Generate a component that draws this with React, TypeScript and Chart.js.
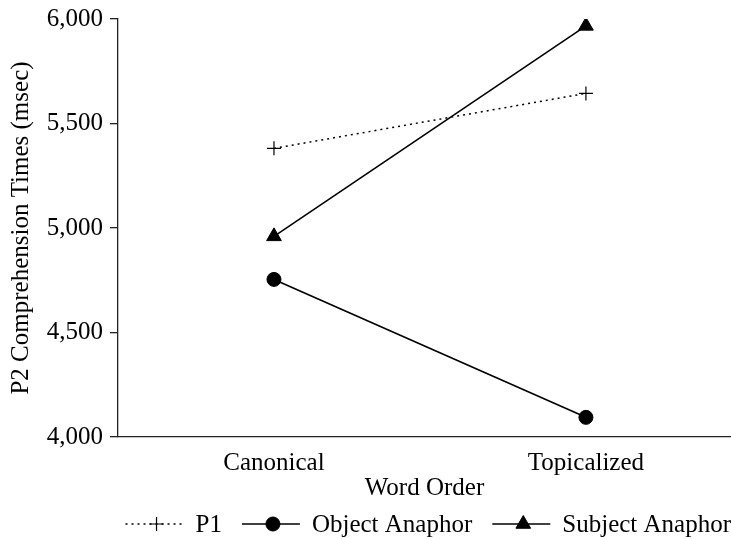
import React, { useEffect, useRef } from 'react';
import { Chart, registerables } from 'chart.js';
import { drawPoint } from 'chart.js/helpers';

Chart.register(...registerables);

const categories = ['Canonical', 'Topicalized'];
const p1Values = [5381, 5644];
const objectAnaphorValues = [4754, 4094];
const subjectAnaphorValues = [4960, 5967];
const yTicks = [4000, 4500, 5000, 5500, 6000];
const seriesLabels = ['P1', 'Object Anaphor', 'Subject Anaphor'];
const xTitle = 'Word Order';
const yTitle = 'P2 Comprehension Times (msec)';

const FONT = "'Liberation Serif', 'Times New Roman', serif";
const FS = 25;

const lineLegend = {
  id: 'lineLegend',
  afterDraw(chart: any) {
    const ctx = chart.ctx as CanvasRenderingContext2D;
    const area = chart.chartArea;
    ctx.save();
    ctx.font = `${FS}px ${FONT}`;
    const W = 58;
    const textGap = 12;
    const itemGap = 20;
    const items = chart.data.datasets.map((ds: any) => ({ ds, tw: ctx.measureText(ds.label).width }));
    const total =
      items.reduce((s: number, it: any) => s + W + textGap + it.tw, 0) + itemGap * (items.length - 1);
    let x = area.right - total;
    const yLine = chart.height - 15;
    const yText = chart.height - 7;
    items.forEach((it: any) => {
      const ds = it.ds;
      ctx.strokeStyle = '#000';
      ctx.fillStyle = '#000';
      ctx.lineWidth = ds.borderWidth;
      ctx.setLineDash(ds.borderDash || []);
      ctx.beginPath();
      ctx.moveTo(x, yLine);
      ctx.lineTo(x + W, yLine);
      ctx.stroke();
      ctx.setLineDash([]);
      ctx.lineWidth = ds.pointBorderWidth;
      drawPoint(ctx, { pointStyle: ds.pointStyle, rotation: 0, radius: ds.pointRadius, borderWidth: ds.pointBorderWidth } as any, x + W / 2 + 2, yLine);
      ctx.textBaseline = 'alphabetic';
      ctx.textAlign = 'left';
      ctx.fillText(ds.label, x + W + textGap, yText);
      x += W + textGap + it.tw + itemGap;
    });
    ctx.restore();
  },
};

function toPoints(values: number[]) {
  return values.map((v, i) => ({ x: i, y: v }));
}

export default function App() {
  const ref = useRef<HTMLCanvasElement | null>(null);

  useEffect(() => {
    if (!ref.current) return;
    Chart.defaults.font.family = FONT;
    Chart.defaults.font.size = FS;
    Chart.defaults.color = '#000';

    const chart = new Chart(ref.current, {
      type: 'line',
      data: {
        datasets: [
          {
            label: seriesLabels[0],
            data: toPoints(p1Values),
            borderColor: '#000',
            backgroundColor: '#000',
            borderWidth: 1.5,
            borderDash: [2, 4],
            pointStyle: 'cross',
            pointRadius: 7,
            pointBorderWidth: 1.2,
            pointBackgroundColor: '#000',
            pointBorderColor: '#000',
          },
          {
            label: seriesLabels[1],
            data: toPoints(objectAnaphorValues),
            borderColor: '#000',
            backgroundColor: '#000',
            borderWidth: 1.6,
            pointStyle: 'circle',
            pointRadius: 7,
            pointBorderWidth: 1,
            pointBackgroundColor: '#000',
            pointBorderColor: '#000',
          },
          {
            label: seriesLabels[2],
            data: toPoints(subjectAnaphorValues),
            borderColor: '#000',
            backgroundColor: '#000',
            borderWidth: 1.6,
            pointStyle: 'triangle',
            pointRadius: 8.5,
            pointBorderWidth: 1,
            pointBackgroundColor: '#000',
            pointBorderColor: '#000',
          },
        ] as any,
      },
      options: {
        animation: false,
        responsive: false,
        devicePixelRatio: 1,
        layout: { autoPadding: false, padding: { top: 19, left: 0, right: 0, bottom: 36 } },
        plugins: { legend: { display: false }, tooltip: { enabled: false } },
        scales: {
          x: {
            type: 'linear',
            min: -0.5,
            max: 1.465,
            afterBuildTicks: (s: any) => {
              s.ticks = categories.map((_, i) => ({ value: i }));
            },
            afterFit: (s: any) => {
              s.height = 66;
              s.paddingLeft = 0;
              s.paddingRight = 0;
            },
            ticks: {
              callback: (v: any) => categories[v] ?? '',
              padding: 3,
              maxRotation: 0,
              autoSkip: false,
              color: '#000',
              font: { size: FS, family: FONT },
            },
            grid: { display: false },
            border: { display: true, color: '#222', width: 1.3 },
            title: {
              display: true,
              text: xTitle,
              color: '#000',
              font: { size: FS, family: FONT },
              padding: { top: 0, bottom: 0 },
            },
          },
          y: {
            type: 'linear',
            min: yTicks[0],
            max: yTicks[yTicks.length - 1],
            afterBuildTicks: (s: any) => {
              s.ticks = yTicks.map((v) => ({ value: v }));
            },
            afterFit: (s: any) => {
              s.width = 118;
              s.paddingTop = 0;
              s.paddingBottom = 0;
            },
            ticks: {
              callback: (v: any) => Number(v).toLocaleString('en-US'),
              padding: 7,
              color: '#000',
              font: { size: FS, family: FONT },
            },
            grid: { drawOnChartArea: false, drawTicks: true, tickLength: 8, color: '#222', lineWidth: 1.3 },
            border: { display: true, color: '#222', width: 1.3 },
            title: {
              display: true,
              text: yTitle,
              color: '#000',
              font: { size: FS, family: FONT },
              padding: { top: 6, bottom: 0 },
            },
          },
        },
      } as any,
      plugins: [lineLegend],
    });
    return () => chart.destroy();
  }, []);

  return (
    <div style={{ position: 'absolute', left: 0, top: 0, width: 731, height: 539, background: '#fff' }}>
      <canvas ref={ref} width={731} height={539} />
    </div>
  );
}
